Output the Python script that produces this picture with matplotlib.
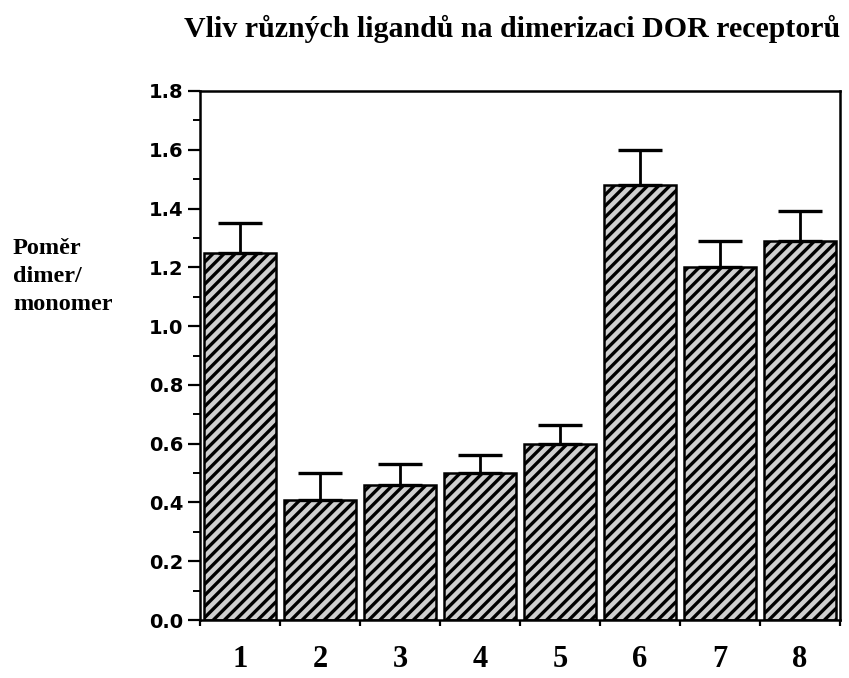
import matplotlib
matplotlib.use("Agg")
import matplotlib.pyplot as plt
from matplotlib.ticker import MultipleLocator

# values
groups = ["1", "2", "3", "4", "5", "6", "7", "8"]
ratio = [1.25, 0.41, 0.46, 0.50, 0.60, 1.48, 1.20, 1.29]
err = [0.10, 0.09, 0.07, 0.06, 0.065, 0.12, 0.09, 0.10]

title = "Vliv různých ligandů na dimerizaci DOR receptorů"
ylabel = "Poměr\ndimer/\nmonomer"

plt.rcParams["hatch.linewidth"] = 2.4
plt.rcParams["hatch.color"] = "black"

fig = plt.figure(figsize=(8.49, 6.78), dpi=100)
ax = fig.add_axes([0.2356, 0.0855, 0.7538, 0.7803])

x = list(range(1, len(groups) + 1))
ax.bar(x, ratio, width=0.9, color="#cfcfcf", edgecolor="black",
       linewidth=1.8, hatch="///", zorder=2)
ax.errorbar(x, ratio, yerr=[[0] * len(err), err], fmt="none",
            ecolor="black", elinewidth=2.0, capsize=16, capthick=2.4,
            zorder=3)

ax.set_xlim(0.5, 8.5)
ax.set_ylim(0, 1.8)

ax.yaxis.set_major_locator(MultipleLocator(0.2))
ax.yaxis.set_minor_locator(MultipleLocator(0.1))
ax.set_yticklabels([f"{v:.1f}" for v in ax.get_yticks()])
ax.tick_params(axis="y", which="major", direction="out", length=9,
               width=1.6, pad=3)
ax.tick_params(axis="y", which="minor", direction="out", length=5,
               width=1.4)
for lab in ax.get_yticklabels():
    lab.set_fontfamily("DejaVu Sans")
    lab.set_fontweight("bold")
    lab.set_fontsize(14)

# category numbers sit under the bars, ticks mark the bar boundaries
ax.set_xticks(x)
ax.set_xticklabels([])
ax.tick_params(axis="x", which="major", length=0)
ax.set_xticks([v + 0.5 for v in range(0, 9)], minor=True)
ax.tick_params(axis="x", which="minor", direction="out", length=4, width=1.6)
for xi, g in zip(x, groups):
    ax.text(xi, -0.085, g, ha="center", va="top", fontsize=22,
            fontweight="bold", family="Liberation Serif")

for s in ax.spines.values():
    s.set_linewidth(1.8)

fig.text(0.989, 0.945, title, ha="right", va="baseline", fontsize=21.5,
         fontweight="bold", family="Liberation Serif")
fig.text(0.0153, 0.592, ylabel, ha="left", va="center", fontsize=17.5,
         fontweight="bold", family="Liberation Serif", linespacing=1.45)

fig.savefig("out.png", dpi=100)
